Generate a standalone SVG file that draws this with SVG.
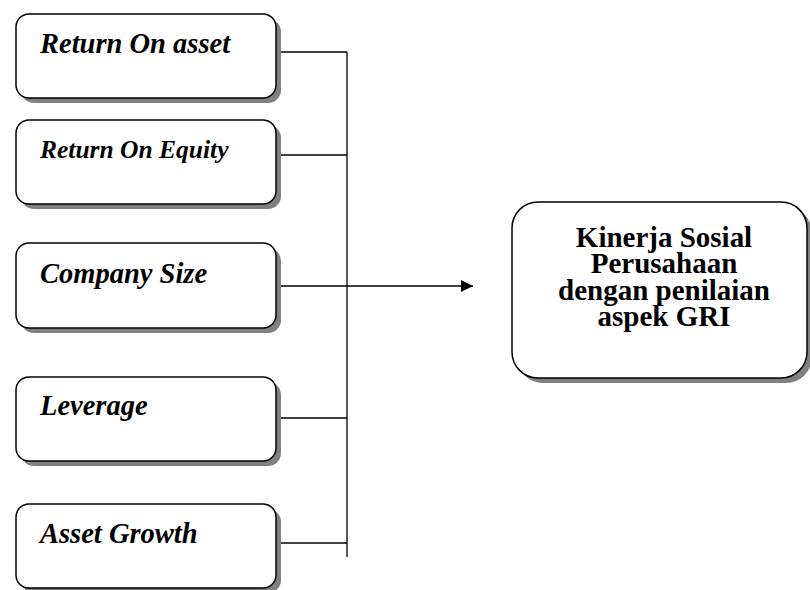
<svg xmlns="http://www.w3.org/2000/svg" width="810" height="590" viewBox="0 0 810 590">
<defs>
<style>
.shadow{fill:#808080;stroke:none}
.box{fill:#fff;stroke:#000;stroke-width:1.5}
.lbl{font-family:"Liberation Serif",serif;font-weight:bold;font-style:italic;font-size:28.5px;fill:#000}
.main{font-family:"Liberation Serif",serif;font-weight:bold;font-size:29px;fill:#000;text-anchor:middle}
.conn{stroke:#000;stroke-width:1.3;fill:none}
</style>
<marker id="arr" viewBox="0 0 10 10" refX="10" refY="5" markerWidth="16" markerHeight="12" markerUnits="userSpaceOnUse" orient="auto">
<path d="M0,0 L10,5 L0,10 z" fill="#000"/>
</marker>
</defs>
<rect width="810" height="590" fill="#fff"/>
<g id="connectors">
<line class="conn" x1="347" y1="52" x2="347" y2="557"/>
<line class="conn" x1="276" y1="52" x2="347" y2="52"/>
<line class="conn" x1="276" y1="155" x2="347" y2="155"/>
<line class="conn" x1="276" y1="418" x2="347" y2="418"/>
<line class="conn" x1="276" y1="543" x2="347" y2="543"/>
<line class="conn" x1="276" y1="286" x2="473" y2="286" marker-end="url(#arr)"/>
</g>
<g id="roa">
<rect class="shadow" x="21" y="19" width="260" height="84" rx="13"/>
<rect class="box" x="16" y="14" width="260" height="84" rx="13"/>
<text class="lbl" x="40" y="53">Return On asset</text>
</g>
<g id="roe">
<rect class="shadow" x="21" y="125" width="260" height="84" rx="13"/>
<rect class="box" x="16" y="120" width="260" height="84" rx="13"/>
<text class="lbl" x="40" y="158" style="font-size:25.5px">Return On Equity</text>
</g>
<g id="size">
<rect class="shadow" x="21" y="248" width="260" height="85" rx="13"/>
<rect class="box" x="16" y="243" width="260" height="85" rx="13"/>
<text class="lbl" x="40" y="283">Company Size</text>
</g>
<g id="lev">
<rect class="shadow" x="21" y="382" width="260" height="84" rx="13"/>
<rect class="box" x="16" y="377" width="260" height="84" rx="13"/>
<text class="lbl" x="40" y="415">Leverage</text>
</g>
<g id="growth">
<rect class="shadow" x="21" y="509" width="260" height="84" rx="13"/>
<rect class="box" x="16" y="504" width="260" height="84" rx="13"/>
<text class="lbl" x="40" y="543">Asset Growth</text>
</g>
<g id="target">
<rect class="shadow" x="517" y="207" width="295" height="176" rx="26"/>
<rect class="box" x="512" y="202" width="295" height="176" rx="26"/>
<g transform="translate(664,247) scale(1,1.05)">
<text class="main" x="0" y="0">Kinerja Sosial</text>
<text class="main" x="0" y="25.2">Perusahaan</text>
<text class="main" x="0" y="50.4">dengan penilaian</text>
<text class="main" x="0" y="75.6">aspek GRI</text>
</g>
</g>
</svg>
